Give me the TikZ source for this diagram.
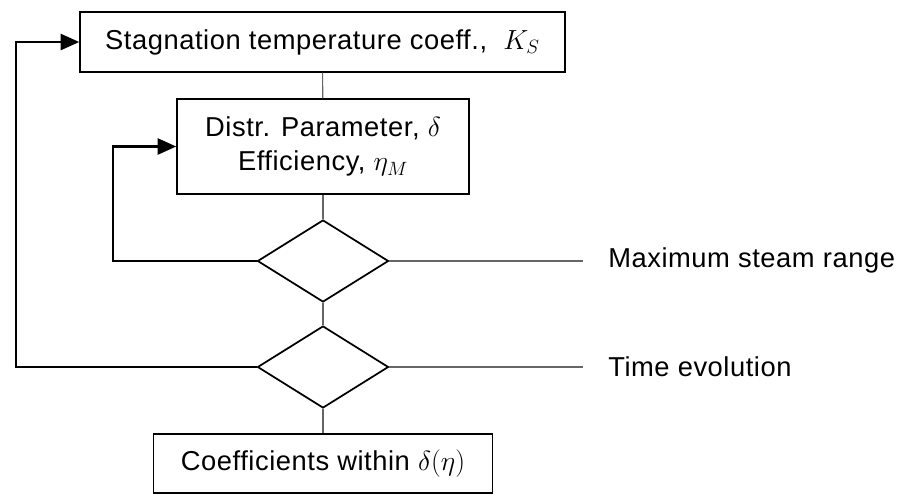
\documentclass[tikz,border=0pt]{standalone}
\usepackage{fontspec}
\setmainfont{Liberation Sans}[LetterSpace=2]
\usepackage{tikz}
\usetikzlibrary{positioning,shapes.geometric,arrows.meta}

\tikzset{
	box/.style={draw, line width=1.1pt, inner sep=0pt, align=center},
	decision/.style={draw, diamond, line width=1.3pt, inner sep=0pt, minimum width=98.25pt, minimum height=61.5pt},
	link/.style={draw=black!60, line width=0.8pt},
	loop/.style={draw, line width=2pt, -{Triangle[length=14pt,width=12pt]}},
	label/.style={anchor=west, inner sep=0pt}
}

\begin{document}
\begin{tikzpicture}[x=0.75pt,y=-0.75pt,font=\fontsize{20.5}{26}\selectfont]
\useasboundingbox (0,0) rectangle (899,494);

	\node[box, minimum width=363.75pt, minimum height=45pt] (stag) at (322.5,42) {Stagnation temperature coeff.,~ $K_S$};
	\node[box, minimum width=219pt, minimum height=71.25pt] (param) at (323,146.5) {Distr. Parameter, $\delta$\\Efficiency, $\eta_M$};
	\node[decision] (range) at (323,261) {};
	\node[decision] (time) at (323,367) {};
	\node[box, minimum width=254.25pt, minimum height=44.25pt] (coef) at (323,463.5) {Coefficients within $\delta(\eta)$};

	\coordinate (rangeend) at (583,261);
	\coordinate (timeend) at (583,367);
	\coordinate (innerloop) at (113,261);
	\coordinate (outerloop) at (16,367);

	\node[label] (rangetext) at (608,260) {Maximum steam range};
	\node[label] (timetext) at (608,367) {Time evolution};

	% vertical chain
	\draw[link] (stag) -- (param);
	\draw[link] (param) -- (range);
	\draw[link] (range) -- (time);
	\draw[link] (time) -- (coef);

	% outputs
	\draw[link] (range.east) -- (rangeend);
	\draw[link] (time.east) -- (timeend);

	% feedback
	\draw[loop] (range.west) -- (innerloop) |- (param.west);
	\draw[loop] (time.west) -- (outerloop) |- (stag.west);
\end{tikzpicture}
\end{document}
